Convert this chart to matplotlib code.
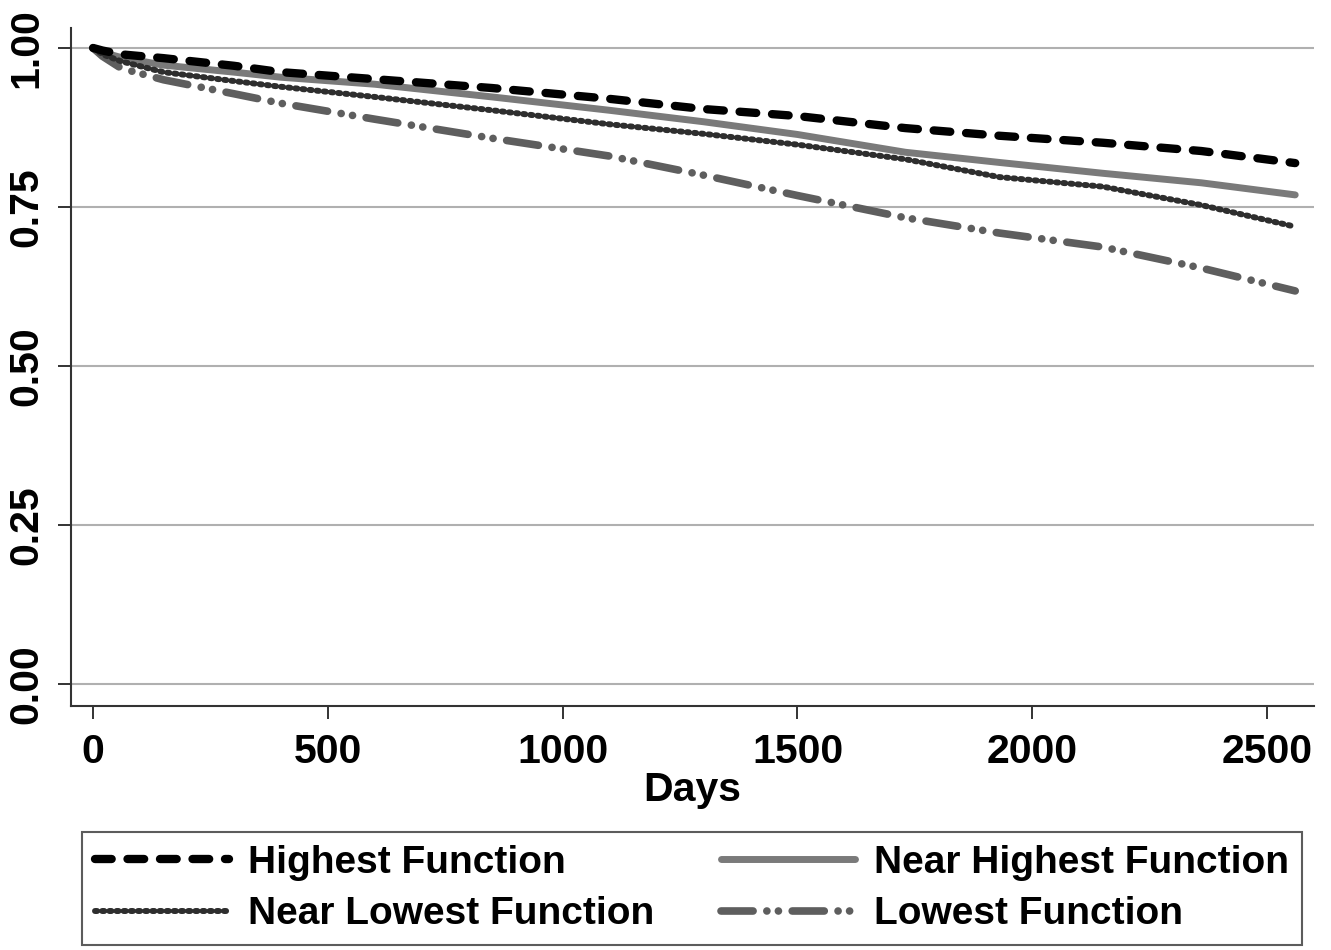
import matplotlib
matplotlib.use("Agg")
import matplotlib.pyplot as plt
import numpy as np

# survival estimates (days -> proportion surviving)
days = [0, 20, 60, 150, 300, 400, 600, 850, 1100, 1300, 1500, 1730, 1930, 2150, 2360, 2560]
highest = [1.0, 0.996, 0.990, 0.984, 0.972, 0.962, 0.951, 0.937, 0.920, 0.904,
           0.893, 0.874, 0.862, 0.851, 0.838, 0.819]
near_highest = [1.0, 0.993, 0.985, 0.973, 0.962, 0.954, 0.943, 0.923, 0.902, 0.884,
                0.864, 0.836, 0.820, 0.803, 0.788, 0.769]
near_lowest = [1.0, 0.990, 0.979, 0.962, 0.948, 0.939, 0.923, 0.902, 0.880, 0.865,
               0.848, 0.825, 0.797, 0.782, 0.753, 0.719]
lowest = [1.0, 0.987, 0.968, 0.950, 0.928, 0.913, 0.888, 0.858, 0.830, 0.800,
          0.768, 0.733, 0.709, 0.687, 0.654, 0.618]

labels = ["Highest Function", "Near Lowest Function",
          "Near Highest Function", "Lowest Function"]
x_ticks = [0, 500, 1000, 1500, 2000, 2500]
y_ticks = [0.0, 0.25, 0.5, 0.75, 1.0]

plt.rcParams['font.family'] = ['Liberation Sans', 'DejaVu Sans']
plt.rcParams['font.weight'] = 'bold'
fs_tick = 29.5
fs_leg = 28

fig = plt.figure(figsize=(13.31, 9.5), dpi=100)
ax = fig.add_axes([71/1331, 1 - 706/950, (1314 - 71)/1331, (706 - 28)/950])

# grid first so curves sit on top
for yv in y_ticks:
    ax.axhline(yv, color="#b0b0b0", lw=1.5, zorder=0)

l1, = ax.plot(days, highest, color="black", lw=6, dashes=(2.0, 1.9),
              dash_capstyle="round", zorder=4)
l2, = ax.plot(days, near_highest, color="#7a7a7a", lw=5,
              solid_capstyle="round", zorder=3)
l3, = ax.plot(days, near_lowest, color="#2e2e2e", lw=4.3, dashes=(0.35, 0.85),
              dash_capstyle="round", zorder=3)
l4, = ax.plot(days, lowest, color="#5e5e5e", lw=5.5,
              dashes=(4.2, 1.8, 0.01, 1.5, 0.01, 1.8),
              dash_capstyle="round", zorder=2)

ax.set_xlim(-47, 2600)
ax.set_ylim(-0.0346, 1.0314)
ax.set_xticks(x_ticks)
ax.set_yticks(y_ticks)
ax.set_yticklabels([f"{v:.2f}" for v in y_ticks])

for s in ["top", "right"]:
    ax.spines[s].set_visible(False)
for s in ["left", "bottom"]:
    ax.spines[s].set_color("#333333")
    ax.spines[s].set_linewidth(1.5)

ax.tick_params(axis="both", length=9.5, width=1.4, color="#333333",
               labelsize=fs_tick)
ax.tick_params(axis="x", pad=10)
ax.tick_params(axis="y", labelrotation=90, pad=9)
for lab in ax.get_yticklabels():
    lab.set_va("center")
    lab.set_fontweight("bold")
for lab in ax.get_xticklabels():
    lab.set_fontweight("bold")

ax.set_xlabel("Days", fontsize=fs_tick, fontweight="bold", labelpad=0)

# legend box under the plot
leg = fig.legend([l1, l3, l2, l4], labels, ncol=2, mode="expand",
                 loc="upper left",
                 bbox_to_anchor=(82/1331, 1 - 948/950, (1302 - 82)/1331, (948 - 832)/950),
                 prop={"size": fs_leg, "weight": "bold"},
                 handlelength=3.45, handletextpad=0.5, borderpad=0.33,
                 labelspacing=0.4, borderaxespad=0, fancybox=False,
                 frameon=True)
leg.get_frame().set_edgecolor("#333333")
leg.get_frame().set_linewidth(1.5)

fig.savefig("out.png", dpi=100)
